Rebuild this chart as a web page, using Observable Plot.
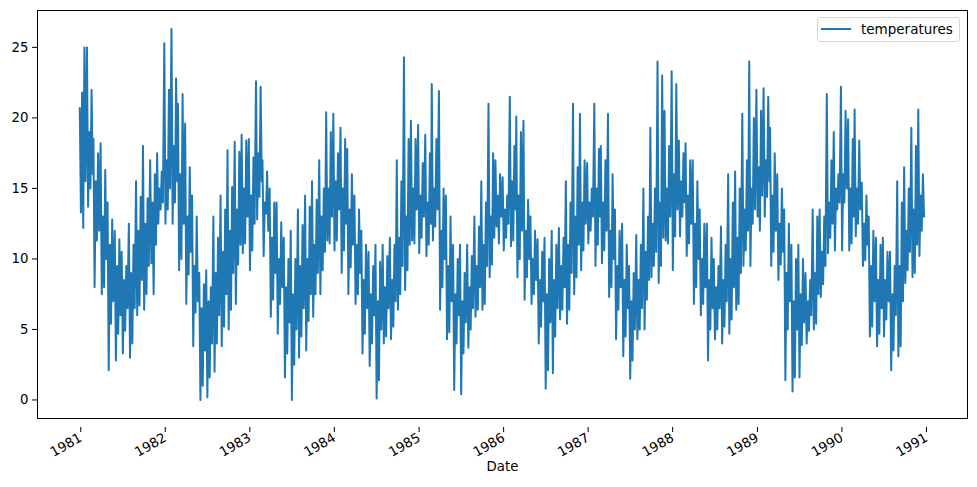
<!DOCTYPE html>
<html>
<head>
<meta charset="utf-8">
<script src="https://cdn.jsdelivr.net/npm/d3@7"></script>
<script src="https://cdn.jsdelivr.net/npm/@observablehq/plot@0.6"></script>
<style>
  html, body { margin: 0; padding: 0; background: #fff; }
  #wrap { position: relative; width: 977px; height: 487px; font-family: "DejaVu Sans", sans-serif; }
  #legend {
    position: absolute; left: 817px; top: 17px; width: 143px; height: 25px;
    border: 1px solid #d6d6d6; border-radius: 3px; background: rgba(255,255,255,0.8);
    box-sizing: border-box; font-size: 13.5px; color: #000;
  }
  #legend .sw { position: absolute; left: 3px; top: 10px; width: 30px; height: 0; border-top: 2px solid #1f77b4; }
  #legend .lb { position: absolute; left: 43px; top: 3px; line-height: 16px; }
</style>
</head>
<body>
<div id="wrap"></div>
<script>
// Category / tick arrays
const years = [1981, 1982, 1983, 1984, 1985, 1986, 1987, 1988, 1989, 1990];
const monthDays = [1, 6, 11, 16, 21, 26]; // six readings per month
const yearTicks = [1981, 1982, 1983, 1984, 1985, 1986, 1987, 1988, 1989, 1990, 1991];
const yTicks = [0, 5, 10, 15, 20, 25];
const seriesName = "temperatures";

// Values: per month [high, low, mid, low, high, mid]
const y1981 = [20.7,13.3,21.8,12.2,25.0,15.5, 25.0,13.7,19.0,15.0,22.0,16.0, 18.5,8.0,15.5,11.3,17.5,12.0,
               18.2,7.5,13.0,8.0,16.3,10.0, 14.0,2.1,11.0,5.4,12.8,7.0, 12.0,2.8,9.5,4.7,11.4,6.0,
               10.5,3.3,8.5,4.9,9.5,6.5, 12.5,3.0,9.0,4.0,11.0,6.5, 15.5,6.0,12.0,6.7,14.4,8.5,
               18.0,6.4,12.5,7.5,14.3,9.5, 17.0,9.7,14.0,7.5,16.0,11.0, 17.5,12.5,15.0,13.5,16.2,14.0];
const y1982 = [25.3,12.5,17.0,13.5,22.0,15.0, 26.3,12.5,18.0,14.0,22.8,15.5, 21.0,9.2,16.0,10.0,21.7,12.5,
               19.6,6.8,13.0,8.9,16.5,10.5, 14.5,3.8,9.5,6.2,13.0,7.0, 9.0,0.0,6.5,1.0,8.2,3.5,
               9.2,0.2,7.0,1.6,8.0,4.0, 13.0,2.0,9.0,4.0,11.5,6.0, 14.5,3.8,10.5,5.2,13.5,7.5,
               17.7,5.0,12.0,6.4,15.1,9.0, 18.3,6.8,13.5,9.6,17.6,11.0, 18.8,10.4,15.0,11.1,18.4,13.0];
const y1983 = [18.5,9.2,14.5,10.6,17.2,12.5, 22.6,12.8,17.5,14.4,22.2,15.5, 17.0,10.2,14.0,13.2,16.2,12.0,
               15.0,5.9,11.5,7.1,14.0,9.0, 14.0,4.7,10.0,6.8,12.6,8.0, 11.5,1.6,8.0,3.3,10.0,5.5,
               12.0,0.0,7.5,2.5,10.0,5.0, 13.5,3.0,9.5,4.5,12.4,6.5, 14.5,3.5,10.0,5.6,13.7,7.5,
               15.5,5.9,11.0,7.5,14.2,9.0, 17.0,7.5,13.0,9.2,15.0,10.5, 20.4,11.3,15.0,11.1,19.0,13.0];
const y1984 = [20.3,10.6,15.5,11.3,17.5,13.5, 19.3,9.0,15.0,10.6,18.5,12.5, 17.8,7.5,13.5,9.4,16.0,11.0,
               14.5,6.8,11.0,7.5,13.5,9.0, 12.0,3.3,8.5,4.7,11.0,6.5, 10.5,2.4,7.5,4.0,9.5,6.0,
               11.0,0.1,7.0,1.4,9.8,5.0, 11.0,4.0,8.0,4.5,10.2,6.5, 11.5,4.3,8.5,5.2,11.0,7.0,
               17.0,6.4,11.5,7.5,15.5,9.5, 24.3,7.8,13.0,9.2,18.5,11.0, 19.8,11.3,15.0,11.1,18.5,13.5];
const y1985 = [19.5,10.4,14.5,11.5,16.8,13.0, 18.8,10.2,14.0,11.0,17.5,12.5, 22.4,11.3,15.0,12.3,18.5,13.5,
               21.9,6.4,12.0,8.0,15.0,10.0, 14.5,4.3,9.5,4.8,13.0,7.0, 11.0,0.7,7.5,4.0,10.0,6.0,
               11.0,0.4,7.0,3.3,9.0,5.5, 11.0,3.7,8.0,5.0,10.2,6.5, 13.0,5.9,9.5,6.4,12.3,8.0,
               15.5,6.4,11.0,6.8,14.0,9.5, 21.0,8.7,13.0,9.6,17.5,11.5, 17.0,12.3,14.5,11.1,16.0,13.0];
const y1986 = [15.8,10.6,13.5,11.5,14.5,12.5, 21.5,10.9,15.5,11.3,18.0,13.5, 20.1,8.7,14.5,10.0,19.0,12.0,
               19.8,7.1,12.0,8.7,14.2,10.0, 13.0,6.8,10.0,7.5,12.0,8.5, 11.4,4.0,8.5,5.2,10.5,7.0,
               11.5,0.8,7.5,2.1,10.0,5.5, 12.0,1.9,8.5,4.5,11.0,6.5, 12.2,5.7,9.5,6.4,11.5,8.0,
               15.5,5.4,11.0,6.4,14.0,9.0, 21.0,7.5,13.0,8.7,16.5,11.0, 20.3,9.2,14.0,10.6,17.0,12.5];
const y1987 = [16.8,11.1,14.0,12.0,15.0,13.0, 21.0,9.5,15.0,11.0,17.8,13.0, 18.0,9.7,14.0,10.6,17.0,12.0,
               20.3,7.3,12.0,8.0,16.0,10.0, 13.5,4.3,9.5,6.4,12.0,8.0, 12.5,3.1,8.5,4.5,11.0,6.5,
               9.5,1.5,7.0,2.8,9.0,5.0, 11.7,4.3,8.5,5.0,11.0,6.5, 15.0,5.0,10.5,7.1,13.0,8.5,
               19.3,8.7,12.5,9.5,15.0,10.5, 24.0,8.3,14.0,9.5,23.0,11.5, 20.5,11.3,15.0,11.1,18.0,13.0];
const y1988 = [23.3,9.2,16.0,11.6,22.4,13.5, 18.4,11.6,15.5,13.0,17.5,14.0, 18.2,10.2,14.5,11.1,17.0,12.5,
               17.0,6.8,12.5,8.0,15.5,10.0, 13.5,6.0,10.0,6.8,12.5,8.0, 12.5,2.8,8.5,5.0,11.5,6.5,
               10.0,4.3,8.0,5.0,9.5,6.5, 12.3,4.0,8.5,5.2,11.0,7.0, 16.0,4.7,10.0,5.7,14.0,8.0,
               16.2,6.4,11.5,6.8,15.0,9.0, 20.3,9.5,13.5,10.6,17.0,12.0, 24.0,9.5,15.0,12.5,20.0,13.5];
const y1989 = [22.0,13.0,16.5,12.0,20.5,14.5, 22.1,13.0,17.0,14.4,21.5,15.5, 19.3,9.5,14.5,10.5,17.5,12.0,
               16.0,8.5,12.5,9.6,15.0,10.5, 13.5,1.4,9.0,5.0,12.5,7.0, 11.0,0.6,7.0,1.6,10.0,5.0,
               11.0,1.6,7.5,3.9,10.0,5.5, 9.0,4.0,7.0,4.9,8.5,6.0, 13.5,5.0,9.0,5.4,13.0,7.5,
               13.5,7.3,10.5,8.2,13.0,9.5, 21.7,10.4,14.0,11.5,17.0,12.5, 19.0,10.6,15.0,13.5,16.0,14.0];
const y1990 = [22.2,10.6,16.0,14.0,20.5,15.0, 19.9,10.6,15.0,11.1,18.5,13.0, 20.6,11.6,15.0,12.5,18.4,13.5,
               15.4,9.5,12.5,9.9,14.5,11.0, 13.0,4.5,9.5,5.2,12.0,7.0, 11.5,3.8,8.5,4.7,11.0,6.5,
               11.5,4.5,8.5,5.7,10.5,7.0, 10.5,2.1,7.5,3.5,9.5,6.0, 15.5,3.1,9.5,3.8,14.0,7.0,
               16.5,8.3,12.0,9.2,15.0,10.5, 19.3,8.7,13.5,9.0,18.0,11.0, 20.6,10.2,14.5,12.0,16.0,13.0];

const seriesByYear = [y1981, y1982, y1983, y1984, y1985, y1986, y1987, y1988, y1989, y1990];
const perMonth = monthDays.length;

const data = [];
years.forEach((yr, i) => {
  seriesByYear[i].forEach((v, k) => {
    data.push({ date: new Date(Date.UTC(yr, Math.floor(k / perMonth), monthDays[k % perMonth])), temp: v });
  });
});

// matplotlib-like 5% margins
const d0 = Date.UTC(1981, 0, 1), d1 = Date.UTC(1990, 11, 31);
const dm = (d1 - d0) * 0.05;
const vmin = 0, vmax = 26.3, vm = (vmax - vmin) * 0.05;

const chart = Plot.plot({
  width: 977,
  height: 487,
  marginTop: 10,
  marginRight: 10,
  marginBottom: 69,
  marginLeft: 37,
  style: { fontFamily: "DejaVu Sans, sans-serif", fontSize: "13.3px", color: "#000", background: "#fff" },
  x: { type: "utc", domain: [new Date(d0 - dm), new Date(d1 + dm)] },
  y: { domain: [vmin - vm, vmax + vm] },
  marks: [
    Plot.line(data, { x: "date", y: "temp", stroke: "#1f77b4", strokeWidth: 2 }),
    Plot.axisY({ ticks: yTicks, tickSize: 5, tickPadding: 4, label: null, stroke: "#000", strokeWidth: 1, fill: "#000" }),
    Plot.axisX({
      ticks: yearTicks.map(y => new Date(Date.UTC(y, 0, 1))),
      tickFormat: d3.utcFormat("%Y"),
      tickRotate: -30, tickSize: 5, tickPadding: 4, dx: 1, dy: 9,
      label: null, stroke: "#000", strokeWidth: 1, fill: "#000"
    }),
    Plot.frame({ stroke: "#000", strokeWidth: 1 }),
    Plot.text(["Date"], { frameAnchor: "bottom", dy: 52, fill: "#000", fontSize: 13.3 })
  ]
});

const wrap = document.getElementById("wrap");
wrap.appendChild(chart);
const legend = document.createElement("div");
legend.id = "legend";
legend.innerHTML = `<div class="sw"></div><div class="lb">${seriesName}</div>`;
wrap.appendChild(legend);
</script>
</body>
</html>
